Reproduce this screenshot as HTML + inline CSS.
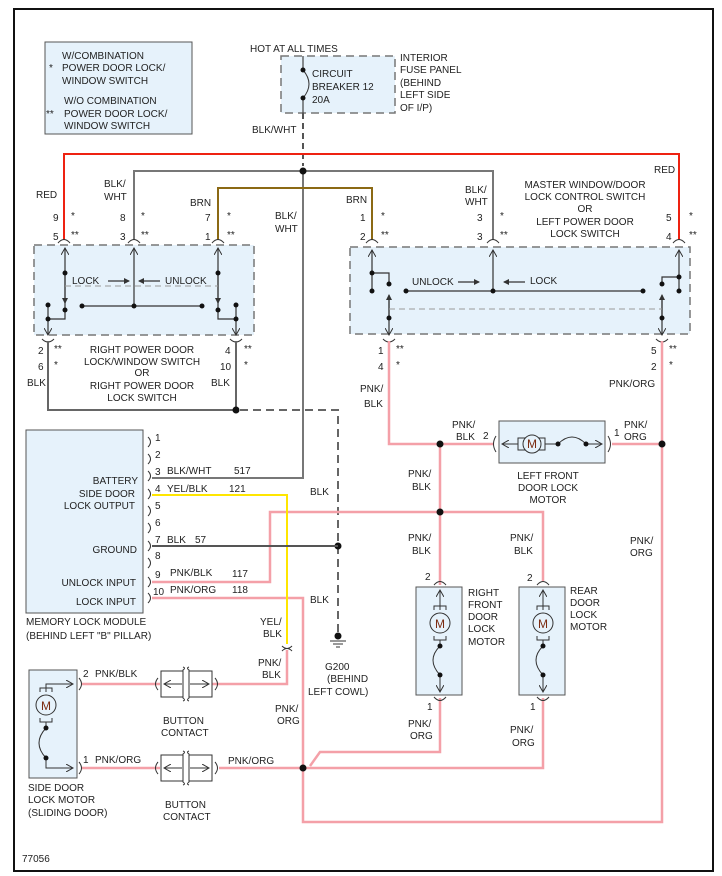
<!DOCTYPE html>
<html><head><meta charset="utf-8"><style>
html,body{margin:0;padding:0;background:#fff}
svg{display:block}
text{font-family:"Liberation Sans",sans-serif;font-size:10px;fill:#222}
</style></head><body>
<svg width="722" height="876" viewBox="0 0 722 876" xmlns="http://www.w3.org/2000/svg">
<defs>
<marker id="ah" markerWidth="8" markerHeight="8" refX="7" refY="4" orient="auto" markerUnits="userSpaceOnUse"><path d="M0,0 L7,4 L0,8" fill="none" stroke="#333" stroke-width="1"/></marker>
<marker id="af" markerWidth="6" markerHeight="6" refX="5" refY="3" orient="auto" markerUnits="userSpaceOnUse"><path d="M0,0 L6,3 L0,6z" fill="#333"/></marker>
</defs>
<rect x="14" y="9" width="699" height="862" fill="none" stroke="#111" stroke-width="2"/>

<!-- legend -->
<rect x="45" y="42" width="147" height="92" fill="#e6f2fb" stroke="#555"/>
<text x="62" y="59">W/COMBINATION</text><text x="49" y="71">*</text>
<text x="62" y="71">POWER DOOR LOCK/</text><text x="62" y="84">WINDOW SWITCH</text>
<text x="64" y="104">W/O COMBINATION</text><text x="46" y="117">**</text>
<text x="64" y="117">POWER DOOR LOCK/</text><text x="64" y="129">WINDOW SWITCH</text>

<!-- fuse panel -->
<rect x="281" y="56" width="114" height="57" fill="#e6f2fb" stroke="#777" stroke-width="1.5" stroke-dasharray="8,5"/>
<text x="250" y="52">HOT AT ALL TIMES</text>
<text x="312" y="77">CIRCUIT</text><text x="312" y="90">BREAKER 12</text><text x="312" y="103">20A</text>
<text x="400" y="61">INTERIOR</text><text x="400" y="73">FUSE PANEL</text><text x="400" y="86">(BEHIND</text><text x="400" y="98">LEFT SIDE</text><text x="400" y="111">OF I/P)</text>
<text x="252" y="133">BLK/WHT</text>
<path d="M303,56 V70 M303,98 V113" stroke="#444" stroke-width="1.2"/>
<path d="M303,70 Q315,84 303,98" fill="none" stroke="#333"/>
<circle cx="303" cy="70" r="2.5" fill="#111"/><circle cx="303" cy="98" r="2.5" fill="#111"/>
<path d="M303,113 V166" stroke="#555" stroke-width="2" stroke-dasharray="6,4"/>
<path d="M303,171 V478 H152" fill="none" stroke="#777" stroke-width="2"/>

<!-- top wires -->
<path d="M64,240 V154 H679 V240" fill="none" stroke="#e21" stroke-width="2"/>
<path d="M134,240 V171 H493 V240" fill="none" stroke="#777" stroke-width="2"/>
<path d="M218,240 V188 H372 V240" fill="none" stroke="#8b6914" stroke-width="2"/>
<circle cx="303" cy="171" r="3.5" fill="#111"/>

<!-- left switch -->
<rect x="34" y="245" width="220" height="90" fill="#e6f2fb" stroke="#777" stroke-width="1.5" stroke-dasharray="8,5"/>
<g fill="none" stroke="#333">
<path d="M58,243 Q64,236 70,243 M128,243 Q134,236 140,243 M212,243 Q218,236 224,243"/>
<path d="M42,339 Q48,345 54,339 M230,339 Q236,345 242,339"/>
</g>
<g stroke="#333" stroke-width="1.2" fill="none">
<path d="M65,310 V248" marker-end="url(#ah)"/><path d="M134,306 V248" marker-end="url(#ah)"/><path d="M218,310 V248" marker-end="url(#ah)"/>
<path d="M65,273 V303" marker-end="url(#af)"/><path d="M218,273 V303" marker-end="url(#af)"/>
<path d="M82,306 H202"/>
<path d="M48,305 V335" marker-end="url(#ah)"/><path d="M48,319 H65 V310"/>
<path d="M236,305 V335" marker-end="url(#ah)"/><path d="M236,319 H218 V310"/>
<path d="M108,281 H129" marker-end="url(#af)"/><path d="M160,281 H139" marker-end="url(#af)"/>
</g>
<path d="M65,286 H218" stroke="#999" stroke-dasharray="6,4"/>
<g fill="#111"><circle cx="65" cy="273" r="2.5"/><circle cx="65" cy="310" r="2.5"/><circle cx="82" cy="306" r="2.5"/><circle cx="134" cy="306" r="2.5"/><circle cx="202" cy="306" r="2.5"/><circle cx="218" cy="273" r="2.5"/><circle cx="218" cy="310" r="2.5"/><circle cx="48" cy="305" r="2.5"/><circle cx="48" cy="319" r="2.5"/><circle cx="236" cy="305" r="2.5"/><circle cx="236" cy="319" r="2.5"/></g>
<text x="72" y="284">LOCK</text><text x="165" y="284">UNLOCK</text>
<text x="36" y="198">RED</text><text x="104" y="187">BLK/</text><text x="104" y="200">WHT</text><text x="190" y="206">BRN</text>
<text x="53" y="221">9</text><text x="71" y="219">*</text><text x="53" y="240">5</text><text x="71" y="238">**</text>
<text x="120" y="221">8</text><text x="141" y="219">*</text><text x="120" y="240">3</text><text x="141" y="238">**</text>
<text x="205" y="221">7</text><text x="227" y="219">*</text><text x="205" y="240">1</text><text x="227" y="238">**</text>
<text x="275" y="219">BLK/</text><text x="275" y="232">WHT</text>
<text x="38" y="354">2</text><text x="54" y="352">**</text><text x="38" y="370">6</text><text x="54" y="368">*</text><text x="27" y="386">BLK</text>
<text x="225" y="354">4</text><text x="244" y="352">**</text><text x="220" y="370">10</text><text x="244" y="368">*</text><text x="211" y="386">BLK</text>
<g text-anchor="middle"><text x="142" y="353">RIGHT POWER DOOR</text><text x="142" y="365">LOCK/WINDOW SWITCH</text><text x="142" y="376">OR</text><text x="142" y="389">RIGHT POWER DOOR</text><text x="142" y="401">LOCK SWITCH</text></g>
<path d="M48,341 V410 H236 V341" fill="none" stroke="#666" stroke-width="2"/>
<circle cx="236" cy="410" r="3.5" fill="#111"/>
<path d="M240,410 H338 V632" fill="none" stroke="#666" stroke-width="2" stroke-dasharray="8,5"/>
<circle cx="338" cy="636" r="3.5" fill="#111"/>
<path d="M330,641 H346 M333,644 H343 M336,647 H340" stroke="#333"/>
<text x="325" y="670">G200</text><text x="327" y="682">(BEHIND</text><text x="308" y="695">LEFT COWL)</text>

<!-- right switch -->
<rect x="350" y="247" width="340" height="87" fill="#e6f2fb" stroke="#777" stroke-width="1.5" stroke-dasharray="8,5"/>
<g fill="none" stroke="#333">
<path d="M366,243 Q372,236 378,243 M487,243 Q493,236 499,243 M673,243 Q679,236 685,243"/>
<path d="M383,339 Q389,345 395,339 M656,339 Q662,345 668,339"/>
</g>
<g stroke="#333" stroke-width="1.2" fill="none">
<path d="M372,291 V250" marker-end="url(#ah)"/><path d="M493,291 V250" marker-end="url(#ah)"/><path d="M679,291 V250" marker-end="url(#ah)"/>
<path d="M372,273 H389 V284"/><path d="M679,277 H662 V284"/>
<path d="M389,318 V295" marker-end="url(#af)"/><path d="M662,318 V295" marker-end="url(#af)"/>
<path d="M389,300 V335" marker-end="url(#ah)"/><path d="M662,300 V335" marker-end="url(#ah)"/>
<path d="M406,291 H643"/>
<path d="M458,282 H479" marker-end="url(#af)"/><path d="M525,282 H504" marker-end="url(#af)"/>
</g>
<path d="M389,309 H662" stroke="#999" stroke-dasharray="6,4"/>
<g fill="#111"><circle cx="372" cy="273" r="2.5"/><circle cx="372" cy="291" r="2.5"/><circle cx="389" cy="284" r="2.5"/><circle cx="389" cy="318" r="2.5"/><circle cx="406" cy="291" r="2.5"/><circle cx="493" cy="291" r="2.5"/><circle cx="643" cy="291" r="2.5"/><circle cx="679" cy="277" r="2.5"/><circle cx="679" cy="291" r="2.5"/><circle cx="662" cy="284" r="2.5"/><circle cx="662" cy="318" r="2.5"/></g>
<text x="412" y="285">UNLOCK</text><text x="530" y="284">LOCK</text>
<text x="346" y="203">BRN</text><text x="360" y="221">1</text><text x="381" y="219">*</text><text x="360" y="240">2</text><text x="381" y="238">**</text>
<text x="465" y="193">BLK/</text><text x="465" y="205">WHT</text><text x="477" y="221">3</text><text x="500" y="219">*</text><text x="477" y="240">3</text><text x="500" y="238">**</text>
<text x="654" y="173">RED</text><text x="666" y="221">5</text><text x="689" y="219">*</text><text x="666" y="240">4</text><text x="689" y="238">**</text>
<g text-anchor="middle"><text x="585" y="188">MASTER WINDOW/DOOR</text><text x="585" y="200">LOCK CONTROL SWITCH</text><text x="585" y="212">OR</text><text x="585" y="225">LEFT POWER DOOR</text><text x="585" y="237">LOCK SWITCH</text></g>
<text x="378" y="354">1</text><text x="396" y="352">**</text><text x="378" y="370">4</text><text x="396" y="368">*</text>
<text x="360" y="392">PNK/</text><text x="364" y="407">BLK</text>
<text x="651" y="354">5</text><text x="669" y="352">**</text><text x="651" y="370">2</text><text x="669" y="368">*</text>
<text x="609" y="387">PNK/ORG</text>

<!-- pink wires -->
<g fill="none" stroke="#f4a0a8" stroke-width="2.5">
<path d="M389,341 V444 H494"/>
<path d="M440,444 V585"/>
<path d="M612,444 H662"/>
<path d="M662,341 V822 H303 V598 H152"/>
<path d="M152,582 H270 V512 H543 V581"/>
<path d="M440,698 V752 H320 L310,766"/>
<path d="M543,698 V768 H219"/>
<path d="M287,650 V684 H212"/>
<path d="M160,684 H82"/>
<path d="M160,768 H82"/>
</g>
<g fill="#111"><circle cx="440" cy="444" r="3.5"/><circle cx="662" cy="444" r="3.5"/><circle cx="440" cy="512" r="3.5"/><circle cx="303" cy="768" r="3.5"/><circle cx="338" cy="546" r="3.5"/></g>
<path d="M152,495 H287 V644" fill="none" stroke="#ffe600" stroke-width="2"/>
<path d="M152,546 H338" stroke="#555" stroke-width="2"/>
<path d="M282,646 Q287,651 292,646 M282,651 Q287,646 292,651" fill="none" stroke="#333"/>

<!-- left front motor -->
<rect x="499" y="421" width="106" height="42" fill="#e6f2fb" stroke="#555"/>
<g stroke="#333" fill="none">
<path d="M518,444 H502" marker-end="url(#ah)"/><path d="M518,438 h8 v12 h-8z M545,438 h-6 v12 h6z"/>
<circle cx="532" cy="444" r="9" fill="#e6f2fb"/><path d="M545,444 H558 Q572,430 586,444 H602" marker-end="url(#ah)"/>
<path d="M496,436 Q491,444 496,452 M608,436 Q613,444 608,452"/>
</g>
<circle cx="558" cy="444" r="2.5" fill="#111"/><circle cx="586" cy="444" r="2.5" fill="#111"/>
<text x="527" y="448" style="font-size:12px;fill:#7a2a10">M</text>
<text x="483" y="439">2</text><text x="614" y="436">1</text>
<text x="452" y="428">PNK/</text><text x="456" y="440">BLK</text><text x="624" y="428">PNK/</text><text x="624" y="440">ORG</text>
<g text-anchor="middle"><text x="548" y="479">LEFT FRONT</text><text x="548" y="491">DOOR LOCK</text><text x="548" y="503">MOTOR</text></g>
<text x="408" y="477">PNK/</text><text x="412" y="490">BLK</text>
<text x="408" y="541">PNK/</text><text x="412" y="554">BLK</text>
<text x="510" y="541">PNK/</text><text x="514" y="554">BLK</text>
<text x="630" y="544">PNK/</text><text x="630" y="556">ORG</text>

<!-- vertical motors -->
<g id="vm">
<rect x="416" y="587" width="46" height="108" fill="#e6f2fb" stroke="#555"/>
<g stroke="#333" fill="none">
<path d="M440,610 V590" marker-end="url(#ah)"/><path d="M434,610 v-4 h12 v4 M434,636 v4 h12 v-4"/>
<circle cx="440" cy="623" r="10" fill="#e6f2fb"/>
<path d="M440,640 V646 Q426,660 440,675 V692" marker-end="url(#ah)"/>
<path d="M434,585 Q440,578 446,585 M434,697 Q440,704 446,697"/>
</g>
<circle cx="440" cy="646" r="2.5" fill="#111"/><circle cx="440" cy="675" r="2.5" fill="#111"/>
<text x="435" y="628" style="font-size:12px;fill:#7a2a10">M</text>
</g>
<use href="#vm" x="103"/>
<text x="425" y="580">2</text><text x="527" y="581">2</text><text x="427" y="710">1</text><text x="530" y="710">1</text>
<text x="468" y="596">RIGHT</text><text x="468" y="608">FRONT</text><text x="468" y="620">DOOR</text><text x="468" y="632">LOCK</text><text x="468" y="645">MOTOR</text>
<text x="570" y="594">REAR</text><text x="570" y="606">DOOR</text><text x="570" y="618">LOCK</text><text x="570" y="630">MOTOR</text>
<text x="408" y="727">PNK/</text><text x="410" y="739">ORG</text><text x="510" y="733">PNK/</text><text x="512" y="746">ORG</text>

<!-- memory module -->
<rect x="26" y="430" width="117" height="183" fill="#e6f2fb" stroke="#555"/>
<g fill="none" stroke="#333">
<path d="M148,437 Q153,442 148,447 M148,454 Q153,459 148,464 M148,471 Q153,476 148,481 M148,489 Q153,494 148,499 M148,506 Q153,511 148,516 M148,523 Q153,528 148,533 M148,541 Q153,546 148,551 M148,558 Q153,563 148,568 M148,577 Q153,582 148,587 M148,593 Q153,598 148,603"/>
</g>
<g><text x="155" y="441">1</text><text x="155" y="458">2</text><text x="155" y="475">3</text><text x="155" y="492">4</text><text x="155" y="509">5</text><text x="155" y="526">6</text><text x="155" y="543">7</text><text x="155" y="559">8</text><text x="155" y="578">9</text><text x="153" y="595">10</text></g>
<g text-anchor="end"><text x="138" y="484">BATTERY</text><text x="135" y="497">SIDE DOOR</text><text x="135" y="509">LOCK OUTPUT</text><text x="137" y="553">GROUND</text><text x="136" y="586">UNLOCK INPUT</text><text x="136" y="605">LOCK INPUT</text></g>
<text x="167" y="474">BLK/WHT</text><text x="234" y="474">517</text>
<text x="167" y="492">YEL/BLK</text><text x="229" y="492">121</text>
<text x="167" y="543">BLK</text><text x="195" y="543">57</text>
<text x="170" y="576">PNK/BLK</text><text x="232" y="577">117</text>
<text x="170" y="593">PNK/ORG</text><text x="232" y="593">118</text>
<text x="310" y="495">BLK</text><text x="310" y="603">BLK</text>
<text x="26" y="625">MEMORY LOCK MODULE</text><text x="26" y="639">(BEHIND LEFT "B" PILLAR)</text>
<text x="260" y="625">YEL/</text><text x="263" y="637">BLK</text>
<text x="258" y="666">PNK/</text><text x="262" y="678">BLK</text>
<text x="275" y="712">PNK/</text><text x="277" y="724">ORG</text>

<!-- side door motor -->
<rect x="29" y="670" width="48" height="108" fill="#e6f2fb" stroke="#555"/>
<g stroke="#333" fill="none">
<path d="M46,692 V684 H73" marker-end="url(#ah)"/>
<path d="M40,692 v-4 h12 v4 M40,718 v4 h12 v-4"/>
<circle cx="46" cy="705" r="10" fill="#e6f2fb"/>
<path d="M46,722 V728 Q32,743 46,758 V768 H73" marker-end="url(#ah)"/>
<path d="M79,678 Q84,684 79,690 M79,762 Q84,768 79,774"/>
</g>
<circle cx="46" cy="728" r="2.5" fill="#111"/><circle cx="46" cy="758" r="2.5" fill="#111"/>
<text x="41" y="710" style="font-size:12px;fill:#7a2a10">M</text>
<text x="83" y="677">2</text><text x="95" y="677">PNK/BLK</text>
<text x="83" y="763">1</text><text x="95" y="763">PNK/ORG</text>
<text x="228" y="764">PNK/ORG</text>
<text x="28" y="791">SIDE DOOR</text><text x="28" y="803">LOCK MOTOR</text><text x="28" y="816">(SLIDING DOOR)</text>

<!-- button contacts -->
<g id="bc" stroke="#333" fill="none">
<rect x="161" y="671" width="22" height="26"/><rect x="189" y="671" width="23" height="26"/>
<path d="M183,667 Q186,668 183,670 V698 Q186,700 183,701 M189,667 Q186,668 189,670 V698 Q186,700 189,701"/>
<path d="M182,684 H164" marker-end="url(#ah)"/><path d="M190,684 H209" marker-end="url(#ah)"/>
<path d="M158,678 Q153,684 158,690 M215,678 Q220,684 215,690"/>
</g>
<use href="#bc" y="84"/>
<text x="163" y="724">BUTTON</text><text x="161" y="736">CONTACT</text>
<text x="165" y="808">BUTTON</text><text x="163" y="820">CONTACT</text>
<text x="22" y="862">77056</text>
</svg>
</body></html>
